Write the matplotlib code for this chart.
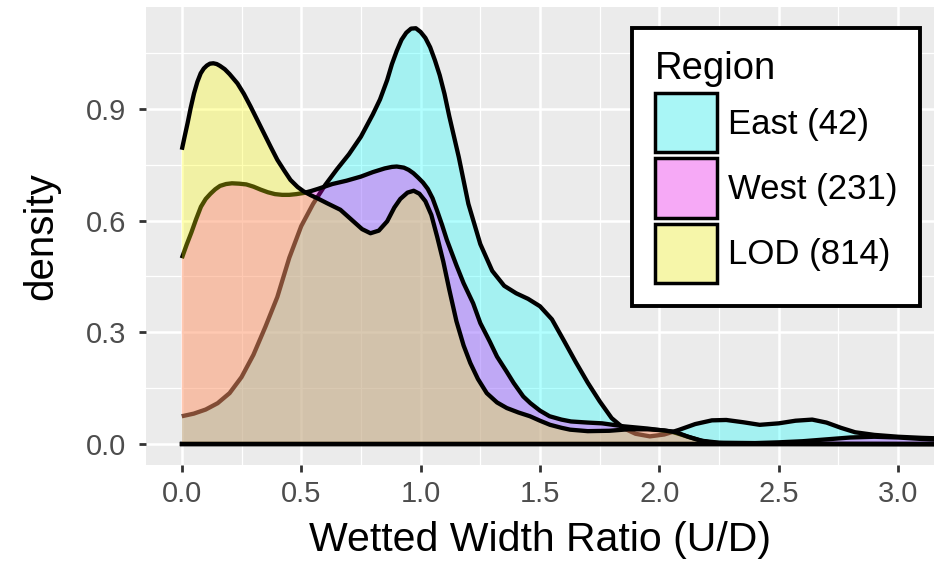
import matplotlib
matplotlib.use('Agg')
import matplotlib.pyplot as plt
from matplotlib.patches import Patch
from matplotlib.ticker import MultipleLocator, FixedLocator

plt.rcParams['font.family'] = ['Liberation Sans', 'DejaVu Sans']

# kernel density of the wetted width ratio, one curve per region
east_x = [0.00, 0.05, 0.10, 0.15, 0.20, 0.25, 0.30, 0.35, 0.40, 0.45, 0.50, 0.55,
          0.60, 0.65, 0.70, 0.75, 0.80, 0.83, 0.86, 0.88, 0.90, 0.92, 0.94,
          0.96, 0.98, 1.00, 1.02, 1.04, 1.06, 1.08, 1.10, 1.12, 1.16, 1.20, 1.25,
          1.30, 1.35, 1.40, 1.45, 1.50, 1.55, 1.60, 1.65, 1.70, 1.75, 1.80, 1.85,
          1.90, 1.96, 2.02, 2.08, 2.15, 2.22, 2.28, 2.35, 2.42, 2.50, 2.57, 2.64,
          2.70, 2.76, 2.82, 2.90, 3.00, 3.10, 3.20]
east_y = [0.075, 0.082, 0.093, 0.110, 0.137, 0.180, 0.240, 0.315, 0.395, 0.500, 0.585, 0.645,
          0.695, 0.738, 0.778, 0.825, 0.885, 0.925, 0.977, 1.020, 1.055, 1.085, 1.104,
          1.115, 1.116, 1.106, 1.090, 1.065, 1.030, 0.990, 0.940, 0.880, 0.770, 0.645, 0.537,
          0.465, 0.425, 0.405, 0.390, 0.370, 0.335, 0.278, 0.220, 0.165, 0.115, 0.070, 0.043,
          0.028, 0.021, 0.026, 0.038, 0.054, 0.064, 0.065, 0.059, 0.052, 0.056, 0.063, 0.066,
          0.058, 0.044, 0.032, 0.025, 0.020, 0.017, 0.015]

west_x = [0.00, 0.02, 0.04, 0.06, 0.08, 0.10, 0.12, 0.14, 0.16, 0.185, 0.21, 0.24,
          0.27, 0.30, 0.33, 0.36, 0.39, 0.42, 0.45, 0.48, 0.51, 0.54, 0.57, 0.63,
          0.69, 0.75, 0.80, 0.85, 0.88, 0.90, 0.93, 0.95, 0.97, 0.99, 1.01, 1.03,
          1.05, 1.07, 1.09, 1.11, 1.15, 1.18, 1.22, 1.25, 1.29, 1.32, 1.36, 1.39,
          1.43, 1.46, 1.50, 1.54, 1.59, 1.63, 1.70, 1.76, 1.85, 1.95, 2.05, 2.12,
          2.18, 2.25, 2.40, 2.50, 2.60, 2.70, 2.80, 2.90, 3.00, 3.10, 3.20]
west_y = [0.499, 0.535, 0.568, 0.604, 0.637, 0.658, 0.672, 0.684, 0.693, 0.698, 0.700, 0.699,
          0.697, 0.691, 0.683, 0.676, 0.671, 0.669, 0.669, 0.671, 0.674, 0.679, 0.685, 0.698,
          0.707, 0.718, 0.730, 0.740, 0.744, 0.745, 0.742, 0.736, 0.727, 0.715, 0.702, 0.685,
          0.660, 0.625, 0.588, 0.548, 0.480, 0.432, 0.378, 0.325, 0.275, 0.235, 0.195, 0.164,
          0.128, 0.110, 0.090, 0.075, 0.066, 0.061, 0.058, 0.056, 0.048, 0.042, 0.034, 0.020,
          0.009, 0.004, 0.003, 0.005, 0.008, 0.013, 0.018, 0.020, 0.018, 0.014, 0.011]

lod_x = [0.000, 0.012, 0.024, 0.037, 0.051, 0.065, 0.079, 0.092, 0.105, 0.118, 0.132, 0.146,
         0.160, 0.180, 0.200, 0.233, 0.260, 0.288, 0.316, 0.344, 0.372, 0.400, 0.430, 0.455,
         0.485, 0.511, 0.540, 0.567, 0.610, 0.664, 0.720, 0.755, 0.790, 0.825, 0.860, 0.890,
         0.915, 0.945, 0.971, 0.995, 1.020, 1.045, 1.070, 1.095, 1.120, 1.150, 1.180, 1.208,
         1.240, 1.277, 1.320, 1.361, 1.410, 1.458, 1.500, 1.542, 1.590, 1.626, 1.700, 1.790,
         1.870, 1.950, 2.020, 2.070, 2.120, 2.170, 2.220, 2.300, 2.500, 3.200]
lod_y = [0.790, 0.826, 0.861, 0.902, 0.941, 0.972, 0.995, 1.008, 1.016, 1.021, 1.022, 1.020,
         1.015, 1.006, 0.993, 0.968, 0.940, 0.906, 0.870, 0.834, 0.798, 0.763, 0.733, 0.709,
         0.690, 0.678, 0.668, 0.660, 0.646, 0.629, 0.597, 0.577, 0.566, 0.573, 0.598, 0.635,
         0.658, 0.675, 0.680, 0.672, 0.652, 0.615, 0.555, 0.490, 0.415, 0.330, 0.265, 0.218,
         0.175, 0.137, 0.112, 0.097, 0.085, 0.075, 0.063, 0.052, 0.044, 0.039, 0.035, 0.036,
         0.040, 0.040, 0.037, 0.032, 0.020, 0.010, 0.004, 0.002, 0.001, 0.000]

regions = ['East (42)', 'West (231)', 'LOD (814)']
curves = [(east_x, east_y), (west_x, west_y), (lod_x, lod_y)]
fills = ['#00FFFF', '#FF00FF', '#FFFF00']
key_fills = ['#A9F6F6', '#F6A9F6', '#F6F6A9']

fig = plt.figure(figsize=(9.34, 5.65), dpi=100)
ax = fig.add_axes([146 / 934, 1 - 465 / 565, (934 - 146) / 934, (465 - 7) / 565])
ax.set_facecolor('#EBEBEB')
for s in ax.spines.values():
    s.set_visible(False)

for i, (xs, ys) in enumerate(curves):
    z = 2 + i
    ax.fill_between(xs, 0, ys, facecolor=fills[i], alpha=0.3, lw=0, zorder=z)
    ax.plot(xs, ys, color='black', lw=3.1, zorder=z + 0.5,
            solid_joinstyle='round', solid_capstyle='butt')
    ax.plot([xs[0], xs[-1]], [0, 0], color='black', lw=3.1, zorder=z + 0.5)

ax.set_xlim(-0.15, 3.15)
ax.set_ylim(-0.0558, 1.173)
ax.xaxis.set_major_locator(MultipleLocator(0.5))
ax.xaxis.set_minor_locator(FixedLocator([0.25, 0.75, 1.25, 1.75, 2.25, 2.75]))
ax.yaxis.set_major_locator(FixedLocator([0.0, 0.3, 0.6, 0.9]))
ax.yaxis.set_minor_locator(FixedLocator([0.15, 0.45, 0.75, 1.05]))
ax.xaxis.set_major_formatter(lambda v, p: '%.1f' % v)
ax.yaxis.set_major_formatter(lambda v, p: '%.1f' % v)

ax.set_axisbelow(True)
ax.grid(which='major', color='white', lw=1.8)
ax.grid(which='minor', color='white', lw=0.9)
ax.tick_params(which='major', length=5, width=2, color='#333333',
               labelsize=21, labelcolor='#4D4D4D')
ax.tick_params(axis='x', which='major', pad=6)
ax.tick_params(axis='y', which='major', pad=9)
ax.tick_params(which='minor', length=0)

ax.set_xlabel('Wetted Width Ratio (U/D)', fontsize=29.5, labelpad=9)
ax.set_ylabel('density', fontsize=29, labelpad=19)

handles = [Patch(facecolor=c, edgecolor='black', linewidth=2.5) for c in key_fills]
leg = ax.legend(handles, regions, title='Region', loc='upper left',
                bbox_to_anchor=(632 / 934, 1 - 28 / 565), bbox_transform=fig.transFigure,
                frameon=True, fancybox=False, edgecolor='black', framealpha=1,
                fontsize=25, title_fontsize=27.5, handlelength=1.8, handleheight=2.24,
                handletextpad=0.3, labelspacing=0.18, borderpad=0.66, borderaxespad=0,
                alignment='left')
leg.get_frame().set_linewidth(2.8)

fig.savefig('out.png', dpi=100)
